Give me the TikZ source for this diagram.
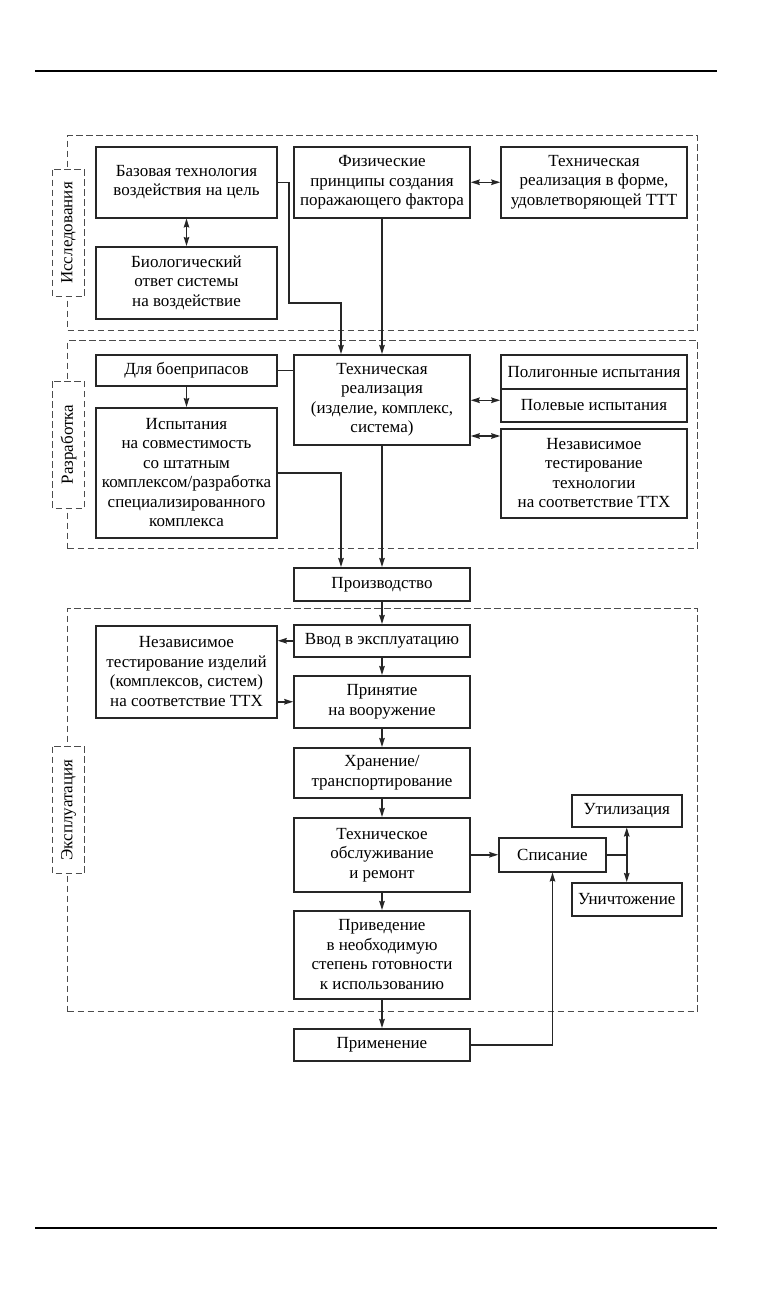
\documentclass[tikz,border=0pt]{standalone}
\usepackage{fontspec}
\setmainfont{Liberation Serif}
\usetikzlibrary{arrows.meta,positioning}

\begin{document}
\begin{tikzpicture}[x=1pt, y=1pt,
    box/.style={rectangle, draw=black!85, line width=1.5pt, fill=white, align=center,
        inner sep=2pt, font=\fontsize{17}{19.5}\selectfont},
    colL/.style={box, minimum width=181pt},
    colC/.style={box, minimum width=176pt},
    colR/.style={box, minimum width=186pt},
    zone/.style={rectangle, draw=black!70, line width=1pt, dash pattern=on 6.5pt off 3.5pt, inner sep=0pt},
    zonelabel/.style={zone, fill=white, rotate=90, minimum width=127pt, minimum height=32pt,
        font=\fontsize{17}{19.5}\selectfont},
    link/.style={line width=1.5pt, draw=black!85},
    arrow/.style={link, -{Stealth[length=9pt,width=5.5pt,inset=1pt]}},
    dblarrow/.style={link, {Stealth[length=9pt,width=5.5pt,inset=1pt]}-{Stealth[length=9pt,width=5.5pt,inset=1pt]}},
    rule/.style={line width=1.2pt, draw=black}
]
\useasboundingbox (0,0) rectangle (756,-1294);

% линейки страницы
\draw[rule] (35,-71) -- (717,-71);
\draw[rule] (35,-1228) -- (717,-1228);

% этапы
\node[zone, minimum width=630pt, minimum height=195pt, anchor=north west] (zres) at (67,-135) {};
\node[zone, minimum width=630pt, minimum height=208pt, anchor=north west] (zdev) at (67,-340) {};
\node[zone, minimum width=630pt, minimum height=403pt, anchor=north west] (zexp) at (67,-608) {};
\node[zonelabel] (lres) at ([xshift=1.5pt]zres.west) {Исследования};
\node[zonelabel] (ldev) at ([xshift=1.5pt]zdev.west) {Разработка};
\node[zonelabel] (lexp) at ([xshift=1.5pt]zexp.west) {Эксплуатация};

% исследования
\node[colC, minimum height=71pt, anchor=north] (fiz) at (382,-146) {Физические\\принципы создания\\поражающего фактора};
\node[colL, minimum height=71pt, left=15.5pt of fiz] (baza) {Базовая технология\\воздействия на цель};
\node[colR, minimum height=71pt, right=29.5pt of fiz] (tehform) {Техническая\\реализация в форме,\\удовлетворяющей ТТТ};
\node[colL, minimum height=72pt, below=27.5pt of baza] (bio) {Биологический\\ответ системы\\на воздействие};

% разработка
\node[colC, minimum height=90pt, below=135.5pt of fiz] (tehreal) {Техническая\\реализация\\(изделие, комплекс,\\система)};
\node[colL, minimum height=31pt, anchor=north east] (boepr) at ([xshift=-15.5pt]tehreal.north west) {Для боеприпасов};
\node[colL, minimum height=130pt, below=20.5pt of boepr] (ispyt) {Испытания\\на совместимость\\со штатным\\комплексом/разработка\\специализированного\\комплекса};
\node[colR, minimum height=34pt, anchor=north west] (polig) at ([xshift=29.5pt]tehreal.north east) {Полигонные испытания};
\node[colR, minimum height=33pt, below=-1.5pt of polig] (polev) {Полевые испытания};
\node[colR, minimum height=89pt, below=5.5pt of polev] (nezteh) {Независимое\\тестирование\\технологии\\на соответствие ТТХ};

% производство и эксплуатация
\node[colC, minimum height=33pt, below=121.5pt of tehreal] (proizv) {Производство};
\node[colC, minimum height=32pt, below=22.5pt of proizv] (vvod) {Ввод в эксплуатацию};
\node[colC, minimum height=52pt, below=17.5pt of vvod] (prin) {Принятие\\на вооружение};
\node[colC, minimum height=50pt, below=18.5pt of prin] (hran) {Хранение/\\транспортирование};
\node[colC, minimum height=74pt, below=18.5pt of hran] (tehobs) {Техническое\\обслуживание\\и ремонт};
\node[colC, minimum height=88pt, below=17.5pt of tehobs] (priv) {Приведение\\в необходимую\\степень готовности\\к использованию};
\node[colC, minimum height=32pt, below=28.5pt of priv] (prim) {Применение};
\node[colL, minimum height=92pt, anchor=north east] (nezizd) at ([xshift=-15.5pt,yshift=-1pt]vvod.north west) {Независимое\\тестирование изделий\\(комплексов, систем)\\на соответствие ТТХ};
\node[box, minimum width=107pt, minimum height=34pt, right=27.5pt of tehobs] (spis) {Списание};
\node[box, minimum width=110pt, minimum height=32pt] (util) at ([xshift=20pt,yshift=44pt]spis.east) {Утилизация};
\node[box, minimum width=110pt, minimum height=33pt] (unich) at ([xshift=20pt,yshift=-44.5pt]spis.east) {Уничтожение};

% связи
\draw[dblarrow] (baza) -- (bio);
\draw[dblarrow] (fiz) -- (tehform);
\draw[arrow] (baza.east) -- ++(11,0) -- ++(0,-120.5) -| ([xshift=-41pt]tehreal.north);
\draw[arrow] (fiz) -- (tehreal);
\draw[link] (boepr.east) -- (boepr.east -| tehreal.west);
\draw[arrow] (boepr) -- (ispyt);
\draw[dblarrow] ([yshift=5pt]polev.west -| tehreal.east) -- ([yshift=5pt]polev.west);
\draw[dblarrow] ([yshift=-8pt]nezteh.north west -| tehreal.east) -- ([yshift=-8pt]nezteh.north west);
\draw[arrow] (ispyt.east) -| ([xshift=-41pt]proizv.north);
\draw[arrow] (tehreal) -- (proizv);
\draw[arrow] (proizv) -- (vvod);
\draw[arrow] (vvod.west) -- (vvod.west -| nezizd.east);
\draw[arrow] (nezizd.east |- prin.west) -- (prin.west);
\draw[arrow] (vvod) -- (prin);
\draw[arrow] (prin) -- (hran);
\draw[arrow] (hran) -- (tehobs);
\draw[arrow] (tehobs) -- (priv);
\draw[arrow] (priv) -- (prim);
\draw[arrow] (tehobs) -- (spis);
\draw[link] (spis.east) -- (spis.east -| util.south);
\draw[dblarrow] (util) -- (unich);
\draw[arrow] (prim.east) -| (spis.south);
\end{tikzpicture}
\end{document}
